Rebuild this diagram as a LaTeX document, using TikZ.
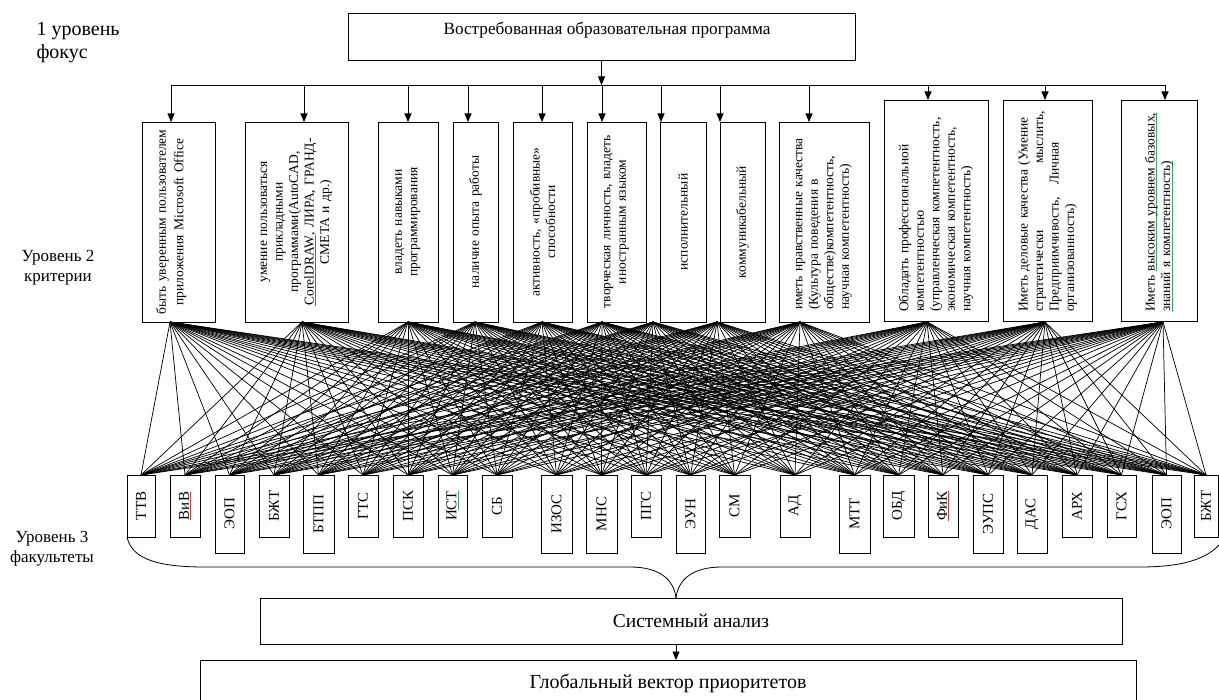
\documentclass[tikz,border=0pt]{standalone}
\usepackage{fontspec}
\setmainfont{Liberation Serif}
\usetikzlibrary{arrows.meta}
\definecolor{spellred}{RGB}{215,55,55}
\definecolor{spellgreen}{RGB}{70,160,95}
% text with a thin coloured underline (proof-reading marks)
\newsavebox\spellbox
\newcommand\spell[2]{\leavevmode\sbox\spellbox{#2}\rlap{\textcolor{#1}{\rule[-2pt]{\wd\spellbox}{0.5pt}}}\usebox\spellbox}
\begin{document}
\begin{tikzpicture}[x=1pt,y=-1pt,
  box/.style={draw, line width=0.8pt, inner sep=0pt, outer sep=0pt, fill=white},
  critbox/.style={box, rotate=90, font=\fontsize{13.5}{15.5}\selectfont},
  facbox/.style={box, rotate=90, font=\fontsize{15}{17}\selectfont},
  lvl/.style={font=\fontsize{17}{20}\selectfont, align=center},
  tip/.style={-{Triangle[length=8.5pt,width=7pt]}, line width=0.8pt},
  fan/.style={line width=0.72pt},
  brace/.style={line width=0.8pt}
]
\useasboundingbox (0,0) rectangle (1219,700);

% ---- level labels ----
\node[font=\fontsize{20}{23}\selectfont, align=left, anchor=west] (l1) at (33,43) {1 уровень\\фокус};
\node[lvl] (l2) at (58,268) {Уровень 2\\критерии};
\node[lvl] (l3) at (52,549) {Уровень 3\\факультеты};

% ---- focus ----
\node[box, minimum width=507pt, minimum height=47pt] (top) at (601.5,36.5) {};
\node[font=\fontsize{17.2}{20}\selectfont] (toptext) at (607,30) {Востребованная образовательная программа};

% ---- criteria: box centre, length, thickness ----
\node[critbox, minimum width=200pt, minimum height=73pt, text width=190pt, align=center,
  font=\fontsize{13.5}{17.5}\selectfont] (c1) at (178.5,222)
  {быть уверенным пользователем\\приложения Microsoft Office\\\mbox{}};
\node[critbox, minimum width=200pt, minimum height=103pt, text width=190pt, align=center] (c2) at (296.5,222)
  {умение пользоваться\\прикладными\\программами(AutoCAD,\\\spell{spellred}{CorelDRAW}, ЛИРА, ГРАНД-\\СМЕТА и др.)};
\node[critbox, minimum width=200pt, minimum height=60pt, text width=190pt, align=center] (c3) at (408,222)
  {владеть навыками\\программирования};
\node[critbox, minimum width=200pt, minimum height=45pt, text width=190pt, align=center] (c4) at (475.5,222)
  {наличие опыта работы};
\node[critbox, minimum width=200pt, minimum height=59pt, text width=190pt, align=center] (c5) at (542.5,222)
  {активность, «пробивные»\\способности};
\node[critbox, minimum width=200pt, minimum height=59pt, text width=190pt, align=center] (c6) at (616.5,222)
  {творческая личность, владеть\\иностранным языком};
\node[critbox, minimum width=200pt, minimum height=46pt, text width=190pt, align=center] (c7) at (683,222)
  {исполнительный};
\node[critbox, minimum width=200pt, minimum height=45pt, text width=190pt, align=center] (c8) at (742.5,222)
  {коммуникабельный};
\node[critbox, minimum width=200pt, minimum height=90pt, text width=176pt, align=left] (c9) at (824,222)
  {иметь нравственные качества\\(Культура поведения в\\обществе)компетентность,\\научная компетентность)};
\node[critbox, minimum width=221pt, minimum height=104pt, text width=203pt, align=left] (c10) at (936,210.5)
  {Обладать профессиональной\\компетентностью\\(управленческая компетентность,\\экономическая компетентность,\\научная компетентность)};
\node[critbox, minimum width=221pt, minimum height=89pt, text width=203pt, align=left] (c11) at (1047.5,210.5)
  {Иметь деловые качества (Умение\\\makebox[201pt][l]{стратегически\hfill мыслить,}\\\makebox[170pt][l]{Предприимчивость,\hfill Личная}\\организованность)};
\node[critbox, minimum width=221pt, minimum height=76pt, text width=203pt, align=left] (c12) at (1159,210.5)
  {Иметь \spell{spellgreen}{высоким уровнем базовых,}\\\spell{spellgreen}{знаний я компетентность)}};

% ---- distribution line and arrows to the criteria ----
\foreach \i/\ax in {1/171,2/304,3/408,4/468,5/542,6/602,7/661,8/720,9/809,10/928,11/1045,12/1165}
  \coordinate (a\i) at (\ax,85);
\coordinate (hub) at (601.5,85);
\draw[line width=0.8pt] (a1) -- (a12);
\draw[tip] (top.south) -- (hub);
\foreach \i in {1,...,12}
  \draw[tip] (a\i) -- (a\i |- c\i.east);

% ---- faculties: number / centre x / width / centre y / height / name ----
\foreach \n/\x/\w/\y/\h/\lab in {
  1/141/28/506/62/ТТВ, 2/185/30/506/62/\spell{spellred}{ВиВ}, 3/229.5/29/514/78/ЭОП,
  4/274/30/506/62/БЖТ, 5/318.5/31/514/78/БТПП, 6/363/30/506/62/ГТС,
  7/408/30/506/62/ПСК, 8/452.5/29/506/62/И\spell{spellgreen}{СТ}, 9/497/30/506/62/СБ,
  10/556.5/31/514/78/ИЗОС, 11/601.5/31/514/78/МНС, 12/646/30/506/62/ПГС,
  13/690.5/29/514/78/ЭУН, 14/734.5/31/506/62/СМ, 15/795/30/506/62/АД,
  16/854.5/31/514/78/МТТ, 17/898.5/31/506/62/ОБД, 18/943/30/506/62/\spell{spellred}{ФиК},
  19/988/30/514/78/ЭУПС, 20/1032/30/514/78/ДАС, 21/1077/30/506/62/АРХ,
  22/1121.5/29/506/62/ГСХ, 23/1166.5/29/514/78/ЭОП, 24/1206/24/506/62/БЖТ}
  \node[facbox, minimum width=\h pt, minimum height=\w pt] (f\n) at (\x,\y) {\lab};

% ---- every criterion is linked with every faculty ----
\foreach \i/\ox in {1/170,2/302,3/408,4/475,5/542,6/602,7/653,8/717,9/800,10/927,11/1045,12/1163}
  \coordinate (o\i) at (\ox,322);
\foreach \i in {1,...,12}
  \foreach \j in {1,...,24}
    \draw[fan] (o\i) -- (f\j.east);

% ---- synthesis ----
\node[box, minimum width=862pt, minimum height=46pt, font=\fontsize{19.5}{22}\selectfont] (sys) at (691,621) {Системный анализ};
\node[box, minimum width=936pt, minimum height=46pt, font=\fontsize{20}{23}\selectfont] (glob) at (668,683) {Глобальный вектор приоритетов};
\coordinate (tip) at (676,598);
\coordinate (braceL) at (f1.north west);
\coordinate (braceR) at (1219,545);
\draw[brace] (braceL) .. controls (132,560) and (160,567) .. (205,567) -- (630,567)
  .. controls (660,567) and (674,580) .. (tip);
\draw[brace] (tip) .. controls (678,580) and (692,567) .. (722,567) -- (1140,567)
  .. controls (1180,567) and (1205,560) .. (braceR);
\draw[tip] (sys.south -| tip) -- (glob.north -| tip);
\end{tikzpicture}
\end{document}
